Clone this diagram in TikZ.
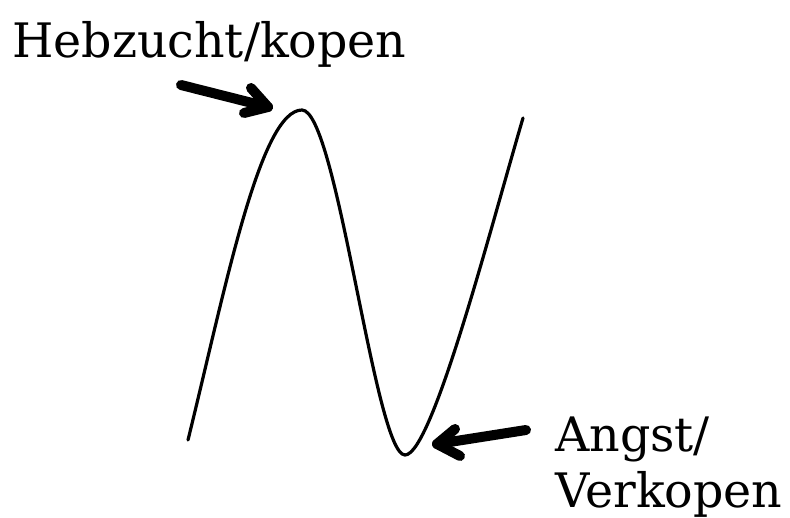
\documentclass[tikz,border=0pt]{standalone}
\usepackage{fontspec}
\setmainfont{DejaVu Serif}
\begin{document}
\begin{tikzpicture}[x=1pt,y=-1pt,
  lbl/.style={font=\fontsize{47.5}{58}\selectfont, inner sep=0pt, anchor=base west},
  curve/.style={line width=3.2pt, line cap=round},
  fatarrow/.style={line width=10pt, line cap=round, line join=round}]
\useasboundingbox[fill=white] (0,0) rectangle (790,518);
% labels
\node[lbl] (hebz) at (12,58) {Hebzucht/kopen};
\node[lbl] (angst) at (555,451) {Angst/};
\node[lbl] (verk) at (555,507) {Verkopen};
% curve
\coordinate (start) at (188,440);
\coordinate (peak) at (302,110);
\coordinate (trough) at (405,455);
\coordinate (end) at (523,118);
\draw[curve] (start) .. controls (225,290) and (260,110) .. (peak)
  .. controls (337,110) and (375,455) .. (trough)
  .. controls (432,455) and (490,230) .. (end);
% upper arrow
\coordinate (t1) at (181,85);
\coordinate (h1) at (268,107);
\coordinate (a1) at (251,88);
\coordinate (b1) at (244,113);
\draw[fatarrow] (t1) -- (h1);
\draw[fatarrow] (a1) -- (h1) -- (b1);
% lower arrow
\coordinate (t2) at (526,430);
\coordinate (h2) at (437,444);
\coordinate (a2) at (455,429);
\coordinate (b2) at (460,456);
\draw[fatarrow] (t2) -- (h2);
\draw[fatarrow] (a2) -- (h2) -- (b2);
\end{tikzpicture}
\end{document}
